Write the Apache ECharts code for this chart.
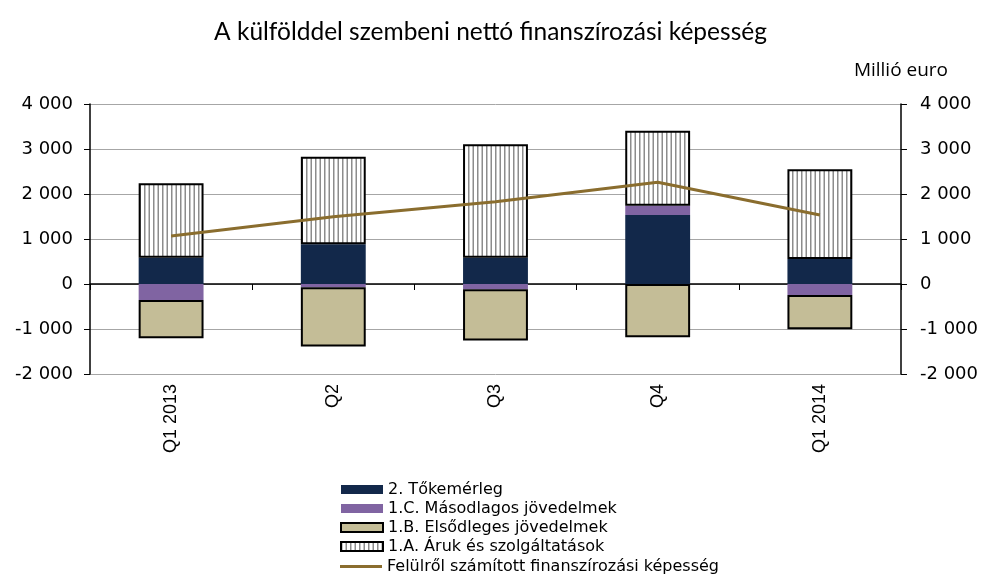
<!DOCTYPE html>
<html>
<head>
<meta charset="utf-8">
<script src="https://cdn.jsdelivr.net/npm/echarts@6/dist/echarts.min.js"></script>
<style>
html,body{margin:0;padding:0;background:#fff;}
#chart{width:981px;height:581px;}
</style>
</head>
<body>
<div id="chart"></div>
<script>
var categories = ['Q1 2013', 'Q2', 'Q3', 'Q4', 'Q1 2014'];
var tokemerleg = [585, 882, 585, 1533, 555];
var masodlagos = [-356, -70, -118, 208, -244];
var elsodleges = [-850, -1320, -1140, -1185, -763];
var arukSzolg = [1653, 1948, 2519, 1666, 1993];
var felulrol = [1067, 1496, 1830, 2260, 1533];
var seriesNames = ['2. Tőkemérleg', '1.C. Másodlagos jövedelmek', '1.B. Elsődleges jövedelmek', '1.A. Áruk és szolgáltatások', 'Felülről számított finanszírozási képesség'];

var pc = document.createElement('canvas');
pc.width = 9; pc.height = 10;
var ctx = pc.getContext('2d');
ctx.fillStyle = '#ffffff'; ctx.fillRect(0, 0, 9, 10);
ctx.fillStyle = '#8c8c8c';
ctx.fillRect(0, 0, 1.5, 10);
ctx.fillRect(4.5, 0, 1.5, 10);

var axisFont = 'DejaVu Sans';
function fmt(v){ var s = Math.abs(v).toString(); if (s.length > 3) s = s.slice(0, s.length-3) + ' ' + s.slice(-3); return (v < 0 ? '-' : '') + s; }
var legendText = { fontFamily: 'DejaVu Sans', fontSize: 16, color: '#000', lineHeight: 19 };

var chart = echarts.init(document.getElementById('chart'));
chart.setOption({
  animation: false,
  backgroundColor: '#fff',
  title: {
    text: 'A külfölddel szembeni nettó finanszírozási képesség',
    left: 'center', top: 15,
    textStyle: { fontFamily: 'Lato', fontSize: 24.5, fontWeight: 'normal', color: '#000' }
  },
  legend: [{
    orient: 'vertical', left: 335, top: 475, height: 90,
    itemWidth: 42, itemHeight: 9, itemGap: 0, icon: 'rect',
    data: seriesNames.slice(0, 4),
    textStyle: legendText
  }, {
    orient: 'vertical', left: 335, top: 552,
    itemWidth: 42, itemHeight: 3, itemGap: 0, icon: 'rect',
    data: [seriesNames[4]],
    textStyle: legendText
  }],
  grid: { left: 90, right: 80, top: 104, bottom: 207 },
  xAxis: [{
    type: 'category', data: categories, position: 'bottom',
    axisLine: { show: false, onZero: false }, axisTick: { show: false },
    axisLabel: { rotate: 90, margin: 10, fontFamily: 'Liberation Sans', fontSize: 18, color: '#000' }
  }, {
    type: 'category', data: categories, position: 'top',
    axisLine: { show: true, onZero: true, lineStyle: { color: '#000', width: 1.5 } },
    axisTick: { show: true, inside: true, length: 6, lineStyle: { color: '#000' } },
    axisLabel: { show: false }
  }],
  yAxis: [{
    type: 'value', min: -2000, max: 4000, interval: 1000, position: 'left',
    axisLine: { show: true, lineStyle: { color: '#000', width: 1.5 } },
    axisTick: { show: true, length: 6, lineStyle: { color: '#000' } },
    splitLine: { show: true, lineStyle: { color: '#a6a6a6', width: 1 } },
    axisLabel: { formatter: fmt, margin: 17, fontFamily: axisFont, fontSize: 18, color: '#000' }
  }, {
    type: 'value', min: -2000, max: 4000, interval: 1000, position: 'right',
    name: 'Millió euro', nameLocation: 'end', nameGap: 24,
    nameTextStyle: { fontFamily: 'Open Sans', fontSize: 19, color: '#000', align: 'center' },
    axisLine: { show: true, lineStyle: { color: '#000', width: 1.5 } },
    axisTick: { show: true, length: 6, lineStyle: { color: '#000' } },
    splitLine: { show: false },
    axisLabel: { formatter: fmt, margin: 19, fontFamily: axisFont, fontSize: 18, color: '#000' }
  }],
  series: [{
    name: seriesNames[0], type: 'bar', stack: 'a', data: tokemerleg, barWidth: '40%',
    itemStyle: { color: '#12284a' }
  }, {
    name: seriesNames[1], type: 'bar', stack: 'a', data: masodlagos,
    itemStyle: { color: '#8064a2' }
  }, {
    name: seriesNames[2], type: 'bar', stack: 'a', data: elsodleges,
    itemStyle: { color: '#c4bd97', borderColor: '#000', borderWidth: 2 }
  }, {
    name: seriesNames[3], type: 'bar', stack: 'a', data: arukSzolg,
    itemStyle: { color: { image: pc, repeat: 'repeat' }, borderColor: '#000', borderWidth: 2 }
  }, {
    name: seriesNames[4], type: 'line', data: felulrol, symbol: 'none', z: 5,
    lineStyle: { color: '#8a6d2e', width: 3 }, itemStyle: { color: '#8a6d2e' }
  }]
});
</script>
</body>
</html>
